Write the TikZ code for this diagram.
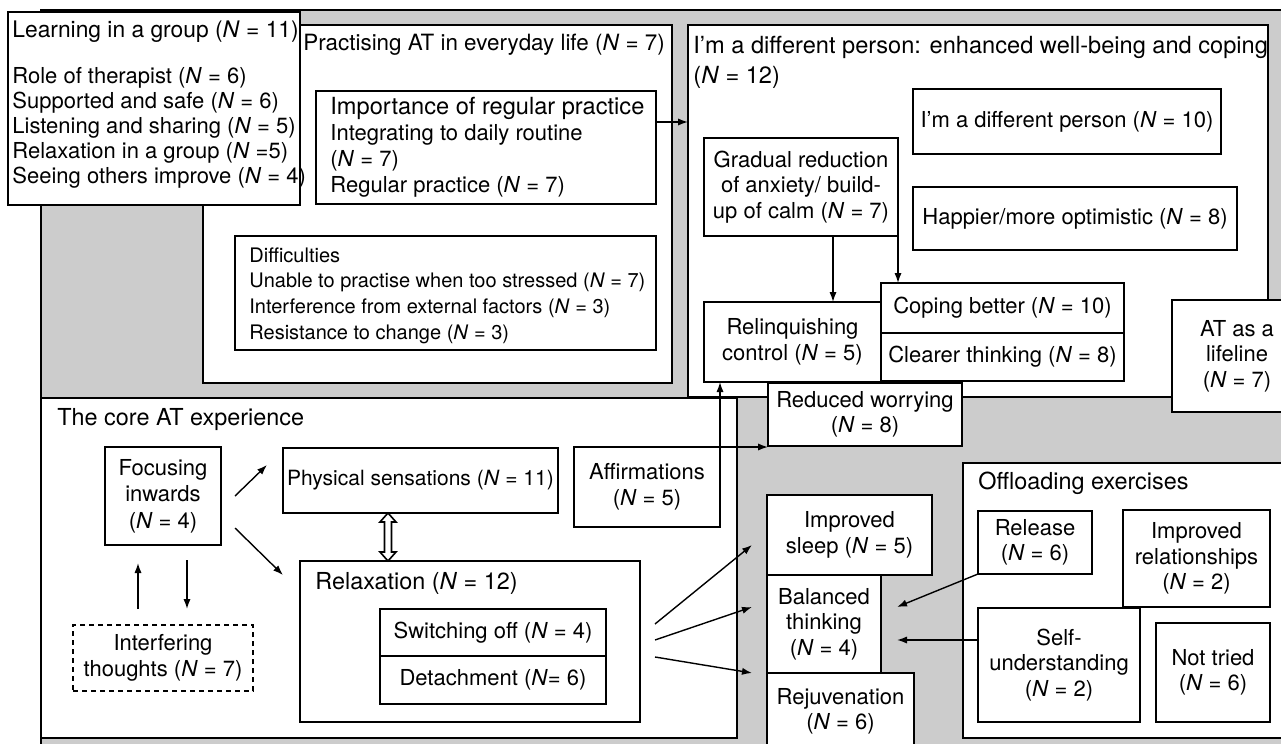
\documentclass[tikz,border=0pt]{standalone}
\usepackage{fontspec}
\setmainfont{TeX Gyre Heros}
\usetikzlibrary{calc,arrows.meta}
\definecolor{panelgray}{RGB}{204,204,204}
\newcommand{\Nv}{\textit{N}}

\tikzset{
  frame/.style={draw=black, line width=1.1pt, fill=white, inner sep=0pt, outer sep=0pt},
  % rectangle given by its corners (x1,y1) (x2,y2) in picture units
  rect/.style n args={4}{minimum width={(#3-#1)*0.5pt}, minimum height={(#4-#2)*0.5pt},
    at={({(#1+#3)/2},{(#2+#4)/2})}},
  box/.style={frame, align=center, font=\fontsize{11}{12.75}\selectfont},
  txt/.style={anchor=west, align=left, inner sep=0pt, font=\fontsize{11}{12.5}\selectfont},
  head/.style={txt, font=\fontsize{11.7}{13}\selectfont},
  arr/.style={line width=0.7pt, -{Latex[length=5pt,width=3.6pt]}},
}

\begin{document}
\begin{tikzpicture}[x=0.5pt,y=-0.5pt]
\useasboundingbox (0,0) rectangle (1281,744);

% grey panel behind everything
\draw[line width=1.1pt, fill=panelgray] (41,10) rectangle (1300,760);

% ---- Practising AT in everyday life
\node[frame, rect={203}{25}{672}{383}] (prac) {};
\node[txt, font=\fontsize{11.2}{13}\selectfont] (practitle) at (303,45) {Practising AT in everyday life (\Nv{} = 7)};
\node[frame, rect={316}{91}{656}{204}] (imp) {};
\node[txt, font=\fontsize{11}{13}\selectfont] (imptext) at (330,147)
  {{\fontsize{11.8}{13}\selectfont Importance of regular practice}\\Integrating to daily routine\\(\Nv{} = 7)\\Regular practice (\Nv{} = 7)};
\node[frame, rect={235}{236}{656}{350}] (dif) {};
\node[txt, font=\fontsize{10}{12.85}\selectfont] (diftext) at (249,295.5)
  {Difficulties\\Unable to practise when too stressed (\Nv{} = 7)\\Interference from external factors (\Nv{} = 3)\\Resistance to change (\Nv{} = 3)};

% ---- Learning in a group
\node[frame, rect={8}{12}{300}{205}] (learn) {};
\node[txt, font=\fontsize{11.4}{13}\selectfont] (learntitle) at (12,32) {Learning in a group (\Nv{} = 11)};
\node[txt] (learntext) at (12,127.5)
  {Role of therapist (\Nv{} = 6)\\Supported and safe (\Nv{} = 6)\\Listening and sharing (\Nv{} = 5)\\Relaxation in a group (\Nv{} =5)\\Seeing others improve (\Nv{} = 4)};

% ---- I'm a different person
\node[frame, rect={688}{25}{1268}{397}] (diffp) {};
\node[txt, font=\fontsize{11.8}{15}\selectfont] (difftitle) at (693,62)
  {I'm a different person: enhanced well-being and coping\\(\Nv{} = 12)};
\node[box, rect={913}{89}{1221}{154}] (diffn) {I'm a different person (\Nv{} = 10)};
\node[box, rect={704}{138}{898}{236}] (grad) {Gradual reduction\\of anxiety/ build-\\up of calm (\Nv{} = 7)};
\node[box, rect={913}{187}{1237}{250}] (happy) {Happier/more optimistic (\Nv{} = 8)};
\node[box, rect={881}{283}{1124}{333}] (cope) {Coping better (\Nv{} = 10)};
\node[box, rect={881}{333}{1124}{381}] (clear) {Clearer thinking (\Nv{} = 8)};
\node[box, rect={704}{302}{881}{382}] (relq) {Relinquishing\\control (\Nv{} = 5)};
\coordinate (gx) at (833,0);
\draw[arr] (grad.south -| gx) -- (relq.north -| gx);
\draw[arr] (grad.south east) -- (grad.south east |- cope.north);

% importance of practice feeds well-being
\coordinate (ia) at ($(imp.east)+(0,-25.5)$);
\draw[arr] (ia) -- (ia -| diffp.west);

% ---- The core AT experience
\node[frame, rect={41}{398}{737}{738}] (core) {};
\node[head] (coretitle) at (57,420) {The core AT experience};
\node[box, rect={105}{447}{221}{545}, font=\fontsize{11}{13.25}\selectfont] (focus) {Focusing\\inwards\\(\Nv{} = 4)};
\node[box, rect={283}{448}{558}{513}, font=\fontsize{10.5}{12.5}\selectfont] (phys) {Physical sensations (\Nv{} = 11)};
\node[frame, rect={300}{561}{640}{722}] (relax) {};
\node[head] (relaxtitle) at (315,583) {Relaxation (\Nv{} = 12)};
\node[box, rect={380}{609}{606}{656}] (switch) {Switching off (\Nv{} = 4)};
\node[box, rect={380}{656}{606}{704}] (detach) {Detachment (\Nv{}= 6)};
\node[box, line width=0.8pt, dash pattern=on 2.5pt off 2pt, rect={73}{625}{253}{691}] (interf) {Interfering\\thoughts (\Nv{} = 7)};
\node[box, rect={574}{447}{720}{527}] (aff) {Affirmations\\(\Nv{} = 5)};

\draw[arr] ($(focus.east)+(14,0)$) -- ($(phys.west)+(-16,-15.5)$);
\draw[arr] ($(focus.east)+(14,32)$) -- ($(relax.north west)+(-17,14)$);
\coordinate (ux) at (138,0);
\coordinate (dx) at (187,0);
\draw[arr] ($(interf.north -| ux)+(0,-16)$) -- ($(focus.south -| ux)+(0,18)$);
\draw[arr] ($(focus.south -| dx)+(0,15)$) -- ($(interf.north -| dx)+(0,-16)$);

% hollow two-way arrow between sensations and relaxation
\coordinate (hx) at (388,0);
\coordinate (ha) at (phys.south -| hx);
\coordinate (hb) at (relax.north -| hx);
\draw[line width=0.8pt, fill=white] (ha) -- ++(8,9) -- ++(-4.5,0) -- ($(hb)+(3.5,-9)$) -- ++(4.5,0)
  -- (hb) -- ++(-8,-9) -- ++(4.5,0) -- ($(ha)+(-3.5,9)$) -- ++(-4.5,0) -- cycle;

% ---- outcomes column
\node[box, rect={768}{383}{962}{446}] (worry) {Reduced worrying\\(\Nv{} = 8)};
\node[box, rect={1172}{300}{1302}{412}] (life) {AT as a\\lifeline\\(\Nv{} = 7)};
\node[box, rect={767}{495}{932}{575}] (sleep) {Improved\\sleep (\Nv{} = 5)};
\node[box, rect={767}{575}{881}{673}] (bal) {Balanced\\thinking\\(\Nv{} = 4)};
\node[box, rect={767}{673}{914}{750}] (rejuv) {Rejuvenation\\(\Nv{} = 6)};

\draw[arr] (aff.north east) -- (aff.north east |- relq.south);
\draw[arr] (aff.north east) -- (aff.north east -| worry.west);

\draw[arr] ($(relax.east)+(15,-17.5)$) -- ($(sleep.west)+(-15,10)$);
\draw[arr] ($(relax.east)+(15,-1.5)$) -- ($(bal.west)+(-15,-17)$);
\draw[arr] ($(relax.east)+(15,15.5)$) -- ($(rejuv.west)+(-15,-38.5)$);

% ---- Offloading exercises
\node[frame, rect={963}{463}{1300}{738}] (off) {};
\node[head] (offtitle) at (978,483) {Offloading exercises};
\node[box, rect={978}{511}{1092}{574}] (rel) {Release\\(\Nv{} = 6)};
\node[box, rect={1123}{510}{1270}{607}] (impr) {Improved\\relationships\\(\Nv{} = 2)};
\node[box, rect={978}{608}{1140}{722}] (self) {Self-\\understanding\\(\Nv{} = 2)};
\node[box, rect={1156}{623}{1270}{722}] (nottr) {Not tried\\(\Nv{} = 6)};

\draw[arr] (rel.south west) -- ($(bal.east)+(16,-17)$);
\draw[arr] ($(self.west)+(0,-25)$) -- ($(bal.east)+(16,16)$);

\end{tikzpicture}
\end{document}
